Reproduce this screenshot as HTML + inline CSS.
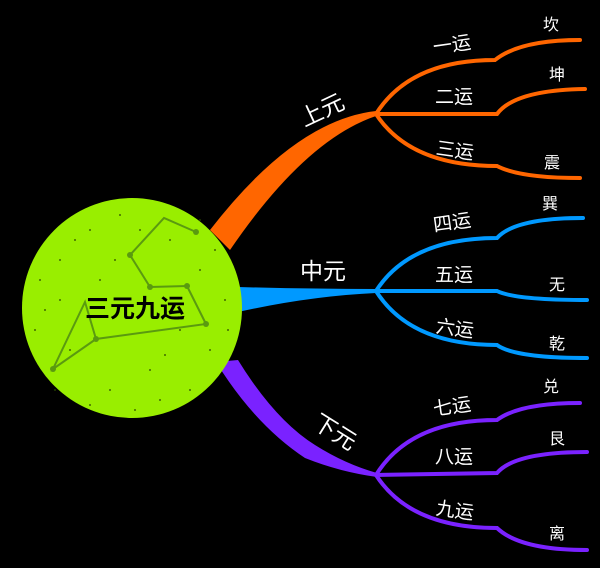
<!DOCTYPE html>
<html><head><meta charset="utf-8"><style>
html,body{margin:0;padding:0;background:#000;}
svg{display:block}
text{font-family:"Liberation Sans","Noto Sans CJK SC",sans-serif;fill:#fff;}
</style></head><body>
<svg width="600" height="568" viewBox="0 0 600 568" xmlns="http://www.w3.org/2000/svg">
<rect width="600" height="568" fill="#000"/>
<path d="M210,230 Q295,120 376,111 L376,116 Q305,140 230,250 Z" fill="#ff6600"/>
<path d="M238,287 Q310,289 376,289 L376,293 Q310,296 238,312 Z" fill="#0099ff"/>
<path d="M216,362 L238,360 Q275,420 315,445 Q345,464 377,473 L377,477 Q340,472 305,458 Q255,425 216,362 Z" fill="#7a22ff"/>
<g fill="none" stroke-width="4" stroke-linecap="round">
<g stroke="#ff6600">
<path d="M376,114 Q410,60 495,60 Q520,40 580,40"/>
<path d="M376,114 L497,114 Q515,90 585,89"/>
<path d="M376,114 Q410,166 497,166 Q520,178 580,178"/>
</g>
<g stroke="#0099ff">
<path d="M376,291 Q410,238 497,238 Q515,218 583,218"/>
<path d="M376,291 L497,291 Q515,300 587,300"/>
<path d="M376,291 Q410,345 497,345 Q515,358 587,358"/>
</g>
<g stroke="#7a22ff">
<path d="M376,475 Q410,420 497,420 Q520,403 580,403"/>
<path d="M376,475 L497,473 Q515,452 587,452"/>
<path d="M376,475 Q410,528 497,528 Q520,550 587,550"/>
</g>
</g>
<circle cx="132" cy="308" r="110" fill="#99ee00"/>
<g fill="#2a4a00" opacity="0.8">
<circle cx="60" cy="260" r="1"/><circle cx="90" cy="230" r="1"/><circle cx="170" cy="240" r="1"/><circle cx="200" cy="270" r="1"/><circle cx="45" cy="310" r="1"/><circle cx="70" cy="350" r="1"/><circle cx="110" cy="390" r="1"/><circle cx="160" cy="400" r="1"/><circle cx="210" cy="350" r="1"/><circle cx="225" cy="300" r="1"/><circle cx="120" cy="215" r="1"/><circle cx="150" cy="370" r="1"/><circle cx="100" cy="280" r="1"/><circle cx="180" cy="330" r="1"/><circle cx="40" cy="280" r="1"/><circle cx="135" cy="410" r="1"/>
<circle cx="75" cy="240" r="1"/><circle cx="140" cy="230" r="1"/><circle cx="215" cy="250" r="1"/><circle cx="35" cy="330" r="1"/><circle cx="55" cy="390" r="1"/><circle cx="90" cy="405" r="1"/><circle cx="190" cy="390" r="1"/><circle cx="228" cy="330" r="1"/><circle cx="115" cy="260" r="1"/><circle cx="165" cy="355" r="1"/><circle cx="60" cy="300" r="1"/><circle cx="200" cy="220" r="1"/>
</g>
<g stroke="#5a9a10" stroke-width="2" fill="none">
<polyline points="196,232 164,218 130,255 150,287 187,286 206,324 96,339 53,369 85,302 96,339"/>
</g>
<g fill="#5a9a10">
<circle cx="196" cy="232" r="3"/><circle cx="130" cy="255" r="3"/><circle cx="150" cy="287" r="3"/><circle cx="187" cy="286" r="3"/><circle cx="206" cy="324" r="3"/><circle cx="96" cy="339" r="3"/><circle cx="53" cy="369" r="3"/>
</g>
<text x="135" y="317" font-size="25" font-weight="bold" text-anchor="middle" style="fill:#000">三元九运</text>
<text x="322" y="118" font-size="23" text-anchor="middle" transform="rotate(-25 322 110)">上元</text>
<text x="323" y="279" font-size="23" text-anchor="middle">中元</text>
<text x="335" y="440" font-size="23" text-anchor="middle" transform="rotate(32 335 432)">下元</text>
<g font-size="19" text-anchor="middle">
<text x="452" y="51" transform="rotate(-8 452 45)">一运</text>
<text x="454" y="103">二运</text>
<text x="455" y="157" transform="rotate(8 455 150)">三运</text>
<text x="452" y="229" transform="rotate(-8 452 222)">四运</text>
<text x="454" y="281">五运</text>
<text x="455" y="335" transform="rotate(8 455 328)">六运</text>
<text x="452" y="413" transform="rotate(-8 452 406)">七运</text>
<text x="454" y="463">八运</text>
<text x="455" y="517" transform="rotate(8 455 510)">九运</text>
</g>
<g font-size="16" text-anchor="middle">
<text x="551" y="30">坎</text>
<text x="557" y="80">坤</text>
<text x="552" y="168">震</text>
<text x="550" y="209">巽</text>
<text x="557" y="290">无</text>
<text x="557" y="349">乾</text>
<text x="551" y="392">兑</text>
<text x="557" y="444">艮</text>
<text x="557" y="539">离</text>
</g>
</svg>
</body></html>
